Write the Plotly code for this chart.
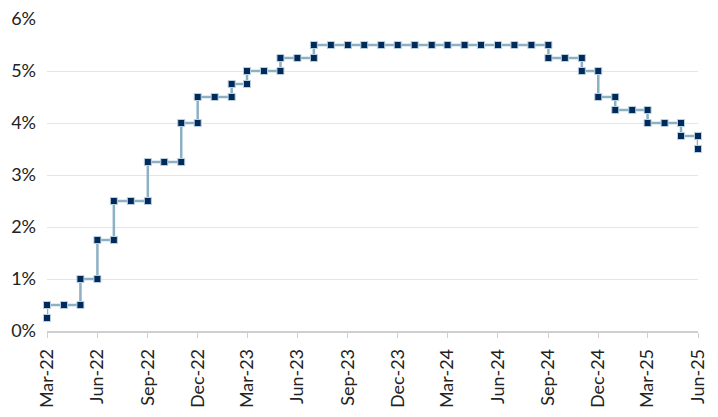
import plotly.graph_objects as go

# Data: each policy change is recorded twice in its month (rate before, rate after)
months = [
    "2022-03", "2022-03", "2022-04", "2022-05", "2022-05", "2022-06", "2022-06",
    "2022-07", "2022-07", "2022-08", "2022-09", "2022-09", "2022-10", "2022-11",
    "2022-11", "2022-12", "2022-12", "2023-01", "2023-02", "2023-02", "2023-03",
    "2023-03", "2023-04", "2023-05", "2023-05", "2023-06", "2023-07", "2023-07",
    "2023-08", "2023-09", "2023-10", "2023-11", "2023-12", "2024-01", "2024-02",
    "2024-03", "2024-04", "2024-05", "2024-06", "2024-07", "2024-08",
    "2024-09", "2024-09", "2024-10", "2024-11", "2024-11", "2024-12", "2024-12",
    "2025-01", "2025-01", "2025-02", "2025-03", "2025-03", "2025-04",
    "2025-05", "2025-05", "2025-06", "2025-06",
]
rates = [
    0.25, 0.50, 0.50, 0.50, 1.00, 1.00, 1.75,
    1.75, 2.50, 2.50, 2.50, 3.25, 3.25, 3.25,
    4.00, 4.00, 4.50, 4.50, 4.50, 4.75, 4.75,
    5.00, 5.00, 5.00, 5.25, 5.25, 5.25, 5.50,
    5.50, 5.50, 5.50, 5.50, 5.50, 5.50, 5.50,
    5.50, 5.50, 5.50, 5.50, 5.50, 5.50,
    5.50, 5.25, 5.25, 5.25, 5.00, 5.00, 4.50,
    4.50, 4.25, 4.25, 4.25, 4.00, 4.00,
    4.00, 3.75, 3.75, 3.50,
]
tick_months = ["2022-03", "2022-06", "2022-09", "2022-12", "2023-03", "2023-06", "2023-09",
               "2023-12", "2024-03", "2024-06", "2024-09", "2024-12", "2025-03", "2025-06"]
tick_labels = ["Mar-22", "Jun-22", "Sep-22", "Dec-22", "Mar-23", "Jun-23", "Sep-23",
               "Dec-23", "Mar-24", "Jun-24", "Sep-24", "Dec-24", "Mar-25", "Jun-25"]
y_ticks = [0, 1, 2, 3, 4, 5, 6]
y_labels = ["0%", "1%", "2%", "3%", "4%", "5%", "6%"]

x = [m + "-01" for m in months]
tx = [m + "-01" for m in tick_months]

fig = go.Figure()
fig.add_trace(go.Scatter(
    x=x, y=rates, mode="lines+markers",
    line=dict(color="#8db1c4", width=2.5),
    marker=dict(symbol="square", size=7, color="#002a5c",
                line=dict(color="#b9cfdc", width=1)),
    cliponaxis=False, showlegend=False,
))

fam = "Lato, 'Open Sans', sans-serif"
fig.update_layout(
    width=710, height=409,
    margin=dict(l=39, r=20, t=11, b=86, autoexpand=False),
    paper_bgcolor="white", plot_bgcolor="white",
    font=dict(family=fam, size=18, color="#222222"),
    xaxis=dict(
        type="date", range=[tx[0], tx[-1]], automargin=False,
        tickmode="array", tickvals=tx, ticktext=tick_labels,
        tickangle=-90, ticks="outside", ticklen=5, tickcolor="#cfcfcf",
        showline=True, linecolor="#cfcfcf", linewidth=1.5,
        showgrid=False, zeroline=False, ticklabelstandoff=4,
        ticklabeloverflow="allow",
        tickfont=dict(family=fam, size=18, color="#222222"),
    ),
    yaxis=dict(
        range=[0, 6], tickmode="array", tickvals=y_ticks, ticktext=y_labels,
        automargin=False, ticklabeloverflow="allow",
        showgrid=True, gridcolor="#e6e6e6", gridwidth=1,
        zeroline=False, showline=False, ticks="", ticklabelstandoff=10,
        tickfont=dict(family=fam, size=18, color="#222222"),
    ),
)

fig.write_html("out.html")
